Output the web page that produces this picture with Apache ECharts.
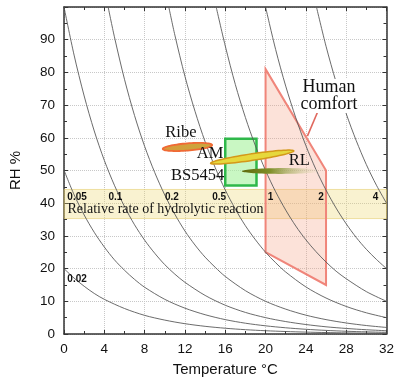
<!DOCTYPE html>
<html>
<head>
<meta charset="utf-8">
<script src="https://cdn.jsdelivr.net/npm/echarts@6/dist/echarts.min.js"></script>
<style>
html,body{margin:0;padding:0;background:#fff;}
#chart{width:400px;height:382px;}
</style>
</head>
<body>
<div id="chart"></div>
<script>
// Isolines of the relative rate of hydrolytic reaction, points [temperature °C, RH %]
const rateLabels = ['0.02', '0.05', '0.1', '0.2', '0.5', '1', '2', '4'];
const iso_0_02 = [[0,20.0],[1,17.1],[2,14.6],[3,12.4],[4,10.6],[6,7.8],[8,5.7],[10,4.25],[12,3.15],[14,2.35],[16,1.76],[18,1.32],[20,1.0],[22,0.76],[24,0.58],[26,0.44],[28,0.34],[30,0.26],[32,0.2]];
const iso_0_05 = [[0,50.1],[1,42.6],[2,36.4],[3,31.1],[4,26.6],[5,22.7],[6,19.5],[7,16.7],[8,14.3],[10,10.6],[12,7.9],[14,5.9],[16,4.4],[18,3.3],[20,2.5],[22,1.9],[24,1.44],[26,1.1],[28,0.84],[30,0.65],[32,0.5]];
const iso_0_1 = [[0,100],[1,85.3],[2,72.8],[3,62.1],[4,53.1],[5,45.5],[6,39.0],[7,33.4],[8,28.7],[9,24.7],[10,21.2],[11,18.3],[12,15.8],[14,11.8],[16,8.8],[18,6.6],[20,5.0],[22,3.8],[24,2.9],[26,2.2],[28,1.7],[30,1.3],[32,1.0]];
const iso_0_2 = [[4.38,100],[5,90.9],[6,77.9],[7,66.8],[8,57.4],[9,49.4],[10,42.5],[11,36.6],[12,31.5],[13,27.2],[14,23.5],[15,20.4],[16,17.6],[18,13.25],[20,10.0],[22,7.6],[24,5.76],[26,4.4],[28,3.37],[30,2.59],[32,2.0]];
const iso_0_5 = [[10.4,100],[11,91.4],[12,78.8],[13,68.1],[14,58.8],[15,50.9],[16,44.05],[17,38.2],[18,33.1],[19,28.8],[20,25.0],[21,21.8],[22,18.95],[24,14.4],[26,11.0],[28,8.43],[30,6.48],[32,5.0]];
const iso_1 = [[15.1,100],[16,88.1],[17,76.3],[18,66.2],[19,57.5],[20,50.0],[21,43.5],[22,37.9],[23,33.0],[24,28.8],[25,25.2],[26,22.0],[27,19.2],[28,16.9],[30,12.96],[32,10.0]];
const iso_2 = [[20,100],[21,87.0],[22,75.8],[23,66.1],[24,57.6],[25,50.3],[26,44.0],[27,38.5],[28,33.7],[29,29.5],[30,25.9],[31,22.8],[32,20.0]];
const iso_4 = [[25.05,100],[26,88.0],[27,77.0],[28,67.4],[29,59.1],[30,51.8],[31,45.5],[32,40.0]];
const isoLines = [iso_0_02, iso_0_05, iso_0_1, iso_0_2, iso_0_5, iso_1, iso_2, iso_4];

// where the rate values are written
const rateLabelT = [1.3, 1.3, 5.1, 10.7, 15.4, 20.5, 25.5, 30.9];
const rateLabelRH = [16.7, 41.9, 41.9, 41.9, 41.9, 41.9, 41.9, 41.9];

// horizontal band
const bandRH = [35.3, 44.2];
const bandTitle = ['Relative rate of hydrolytic reaction'];
const bandTitleT = [0.35];
const bandTitleRH = [38.0];

// human comfort zone
const comfortT = [20, 26, 26, 20];
const comfortRH = [81, 50, 15, 25];
const comfortPointer = [[24.15, 60.5], [25.3, 68.9]];

// BS5454 box
const bs5454T = [16, 19.1];
const bs5454RH = [45.4, 59.7];

// recommendation ellipses: end points [T, RH]
const ribeEnds = [[9.8, 56.6], [14.7, 57.8]];
const amEnds = [[14.55, 52.2], [22.8, 56.0]];
const rlEnds = [[17.65, 49.8], [25.6, 49.9]];

// annotations
const noteText = ['Ribe', 'AM', 'BS5454', 'RL', 'Human\ncomfort'];
const noteT = [11.6, 14.5, 13.25, 23.35, 26.3];
const noteRH = [61.6, 55.2, 48.4, 53.0, 72.8];

const SERIF = '"Liberation Serif", "DejaVu Serif", serif';
const SANS = '"Liberation Sans", Arial, sans-serif';

const chart = echarts.init(document.getElementById('chart'), null, {renderer: 'canvas'});

function ellipseRender(ends, halfPx, style) {
  return function (params, api) {
    const p1 = api.coord(ends[0]), p2 = api.coord(ends[1]);
    const cx = (p1[0] + p2[0]) / 2, cy = (p1[1] + p2[1]) / 2;
    const dx = p2[0] - p1[0], dy = p2[1] - p1[1];
    const a = Math.sqrt(dx * dx + dy * dy) / 2, phi = Math.atan2(dy, dx);
    const pts = [];
    for (let i = 0; i < 72; i++) {
      const t = i / 72 * 2 * Math.PI;
      const ex = a * Math.cos(t), ey = halfPx * Math.sin(t);
      pts.push([cx + ex * Math.cos(phi) - ey * Math.sin(phi), cy + ex * Math.sin(phi) + ey * Math.cos(phi)]);
    }
    return {type: 'polygon', shape: {points: pts}, style: style};
  };
}

function textSeries(texts, ts, rhs, font, align, extra, z) {
  return {
    type: 'custom', z: z || 10, silent: true,
    data: ts.map((t, i) => [t, rhs[i], i]),
    renderItem: function (params, api) {
      const p = api.coord([api.value(0), api.value(1)]);
      const i = api.value(2);
      return {
        type: 'text', x: p[0], y: p[1],
        style: Object.assign({text: texts[i], font: font, fill: '#111', align: align, verticalAlign: 'middle'}, extra || {})
      };
    }
  };
}

const axisCommon = {
  type: 'value',
  axisLine: {show: true, onZero: false, lineStyle: {color: '#333', width: 1.5}},
  axisTick: {show: true, inside: true, length: 4, lineStyle: {color: '#333', width: 1}},
  minorTick: {show: true, splitNumber: 2, length: 3, lineStyle: {color: '#333', width: 1}}
};

const series = [];

// band
series.push({
  type: 'line', data: [], z: 1, silent: true,
  markArea: {
    silent: true,
    itemStyle: {color: 'rgba(235,215,110,0.32)', borderColor: 'rgba(225,200,100,0.55)', borderWidth: 1},
    data: [[{yAxis: bandRH[0]}, {yAxis: bandRH[1]}]]
  }
});

// comfort polygon
series.push({
  type: 'custom', z: 2, silent: true, data: [[comfortT[0], comfortRH[0]]],
  renderItem: function (params, api) {
    return {
      type: 'polygon',
      shape: {points: comfortT.map((t, i) => api.coord([t, comfortRH[i]]))},
      style: {fill: 'rgba(245,160,130,0.3)', stroke: '#f0857a', lineWidth: 2}
    };
  }
});

// BS5454 box
series.push({
  type: 'custom', z: 2, silent: true, data: [[bs5454T[0], bs5454RH[0]]],
  renderItem: function (params, api) {
    const a = api.coord([bs5454T[0], bs5454RH[1]]);
    const b = api.coord([bs5454T[1], bs5454RH[0]]);
    return {
      type: 'rect',
      shape: {x: a[0], y: a[1], width: b[0] - a[0], height: b[1] - a[1]},
      style: {fill: 'rgba(165,242,155,0.6)', stroke: '#2fb84a', lineWidth: 2.5}
    };
  }
});

// isolines
isoLines.forEach(function (d) {
  series.push({
    type: 'line', data: d, z: 3, silent: true, showSymbol: false, symbol: 'none',
    smooth: 0.3,
    lineStyle: {color: '#5a5a5a', width: 0.9}
  });
});

// comfort pointer
series.push({
  type: 'line', data: comfortPointer, z: 4, silent: true, showSymbol: false, symbol: 'none',
  lineStyle: {color: '#e0685e', width: 1.6}
});

// ellipses
series.push({
  type: 'custom', z: 5, silent: true, data: [ribeEnds[0]],
  renderItem: ellipseRender(ribeEnds, 3.6, {
    fill: new echarts.graphic.LinearGradient(0, 0, 1, 0, [{offset: 0, color: '#d99a3a'}, {offset: 1, color: '#c8a83e'}]),
    stroke: '#f06a35', lineWidth: 1.8
  })
});
series.push({
  type: 'custom', z: 5, silent: true, data: [amEnds[0]],
  renderItem: ellipseRender(amEnds, 3.3, {fill: '#e6d83c', stroke: '#d4981a', lineWidth: 1.5})
});
series.push({
  type: 'custom', z: 5, silent: true, data: [rlEnds[0]],
  renderItem: ellipseRender(rlEnds, 2.9, {
    fill: new echarts.graphic.LinearGradient(0, 0, 1, 0, [
      {offset: 0, color: '#5e6a0c'}, {offset: 0.35, color: '#7f8f28'},
      {offset: 0.7, color: 'rgba(190,190,130,0.6)'}, {offset: 1, color: 'rgba(230,225,190,0)'}
    ])
  })
});

// rate labels
series.push(textSeries(rateLabels, rateLabelT, rateLabelRH, 'bold 10px ' + SANS, 'center', null, 8));
// band title
series.push(textSeries(bandTitle, bandTitleT, bandTitleRH, '14px ' + SERIF, 'left', null, 8));
// notes
series.push(textSeries(noteText.slice(0, 4), noteT.slice(0, 4), noteRH.slice(0, 4), '16.5px ' + SERIF, 'center', null, 9));
series.push(textSeries(noteText.slice(4), noteT.slice(4), noteRH.slice(4), '18px ' + SERIF, 'center',
  {backgroundColor: '#fff', lineHeight: 17, padding: [0, 1]}, 9));

const option = {
  animation: false,
  backgroundColor: '#fff',
  grid: {left: 59.5, right: 13.5, top: 7, bottom: 46, containLabel: false},
  xAxis: [
    Object.assign({}, axisCommon, {
      min: 0, max: 32, interval: 4, position: 'bottom',
      axisLabel: {color: '#111', fontSize: 13.5, fontFamily: SANS, margin: 8},
      splitLine: {show: true, lineStyle: {color: '#c8c8c8', type: 'dotted', width: 1}},
      name: 'Temperature °C', nameLocation: 'middle', nameGap: 28,
      nameTextStyle: {color: '#111', fontSize: 15, fontFamily: SANS}
    }),
    Object.assign({}, axisCommon, {
      min: 0, max: 32, interval: 4, position: 'top',
      axisLabel: {show: false}, splitLine: {show: false}
    })
  ],
  yAxis: [
    Object.assign({}, axisCommon, {
      min: 0, max: 100, interval: 10, position: 'left',
      axisLabel: {color: '#111', fontSize: 13.5, fontFamily: SANS, margin: 9,
        formatter: function (v) { return v >= 100 ? '' : String(v); }},
      splitLine: {show: true, lineStyle: {color: '#c8c8c8', type: 'dotted', width: 1}},
      name: 'RH %', nameLocation: 'middle', nameGap: 41,
      nameTextStyle: {color: '#111', fontSize: 15, fontFamily: SANS}
    }),
    Object.assign({}, axisCommon, {
      min: 0, max: 100, interval: 10, position: 'right',
      axisLabel: {show: false}, splitLine: {show: false}
    })
  ],
  series: series
};

chart.setOption(option);
</script>
</body>
</html>
